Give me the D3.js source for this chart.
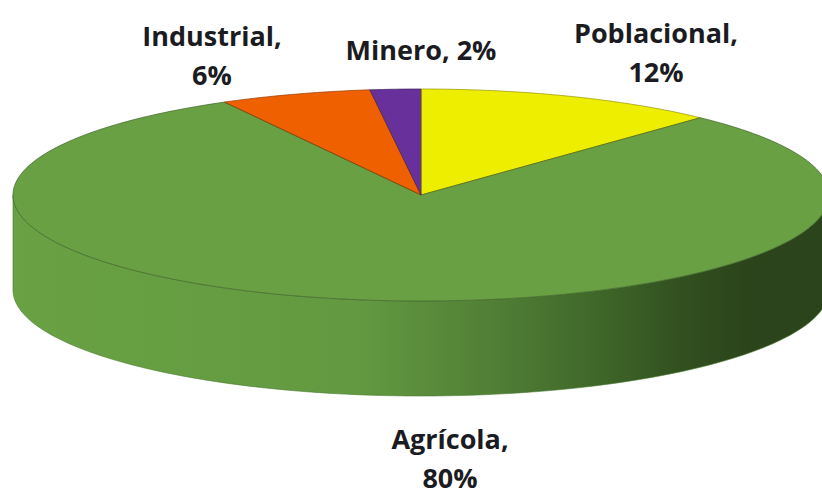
<!DOCTYPE html>
<html><head><meta charset="utf-8">
<script src="https://cdn.jsdelivr.net/npm/d3@7/dist/d3.min.js"></script>
<style>html,body{margin:0;padding:0;background:#fff;overflow:hidden}svg{display:block}</style>
</head><body><svg id="c" width="822" height="493"></svg>
<script>
const categories = ["Poblacional","Agrícola","Industrial","Minero"];
const values = [12,80,6,2];
const colors = ["#eeee00","#69a044","#ee6000","#68309a"];
const labelLines = [["Poblacional,","12%"],["Agrícola,","80%"],["Industrial,","6%"],["Minero, 2%"]];
const labelPos = [[656,43],[450,449],[212,46],[421,60]];

const W=822,H=493,cx=421,cy=195,rx=408,ry=106,depth=95;
const svg=d3.select("#c");
const pie=d3.pie().sort(null)(values);
const px=a=>cx+rx*Math.sin(a), py=a=>cy-ry*Math.cos(a);

const defs=svg.append("defs");
const grad=defs.append("linearGradient").attr("id","side")
  .attr("gradientUnits","userSpaceOnUse").attr("x1",cx-rx).attr("x2",cx+rx).attr("y1",0).attr("y2",0);
[[0,"#6aa144"],[0.04,"#68a043"],[0.42,"#639a41"],[0.6,"#4f7d35"],[0.72,"#3f6629"],[0.82,"#31501f"],[0.9,"#2c441b"],[1,"#2c441b"]]
  .forEach(([o,c])=>grad.append("stop").attr("offset",o).attr("stop-color",c));

// front wall of the disc: lower half of the ellipse extruded downward
const wall=d3.path();
wall.moveTo(cx-rx,cy);
wall.lineTo(cx-rx,cy+depth);
wall.arc(0,0,1,0,0); // no-op keeps the path current point
const arcPts=(a0,a1,dy)=>d3.range(0,101).map(i=>{const a=a0+(a1-a0)*i/100;return [px(a),py(a)+dy];});
const wallPts=[...arcPts(1.5*Math.PI,Math.PI/2,depth),...arcPts(Math.PI/2,1.5*Math.PI,0)];
svg.append("path").attr("d",d3.line()(wallPts)+"Z").attr("fill","url(#side)")
  .attr("stroke","#4c7a30").attr("stroke-width",0.6);

// top slices
const line=d3.line();
svg.append("g").selectAll("path").data(pie).join("path")
  .attr("d",d=>{
    const n=Math.max(2,Math.ceil((d.endAngle-d.startAngle)*60));
    const pts=[[cx,cy]];
    for(let i=0;i<=n;i++){const a=d.startAngle+(d.endAngle-d.startAngle)*i/n;pts.push([px(a),py(a)]);}
    return line(pts)+"Z";
  })
  .attr("fill",(d,i)=>colors[i]);

// thin dark edges: slice radii and rim
svg.append("g").selectAll("path").data(pie).join("path")
  .attr("d",d=>{
    const n=Math.max(2,Math.ceil((d.endAngle-d.startAngle)*60));
    const pts=[[cx,cy]];
    for(let i=0;i<=n;i++){const a=d.startAngle+(d.endAngle-d.startAngle)*i/n;pts.push([px(a),py(a)]);}
    return line(pts)+"Z";
  })
  .attr("fill","none").attr("stroke",(d,i)=>d3.color(colors[i]).darker(1.3)).attr("stroke-width",0.9).attr("stroke-opacity",0.8);

// labels
const lh=39;
const g=svg.append("g").attr("font-family","'Open Sans',Lato,sans-serif").attr("font-weight",700)
  .attr("font-size",27).attr("fill","#1b1b22").attr("text-anchor","middle");
categories.forEach((c,i)=>{
  const t=g.append("text").attr("x",labelPos[i][0]).attr("y",labelPos[i][1]);
  labelLines[i].forEach((s,j)=>t.append("tspan").attr("x",labelPos[i][0]).attr("y",labelPos[i][1]+j*lh).text(s));
});
</script></body></html>
